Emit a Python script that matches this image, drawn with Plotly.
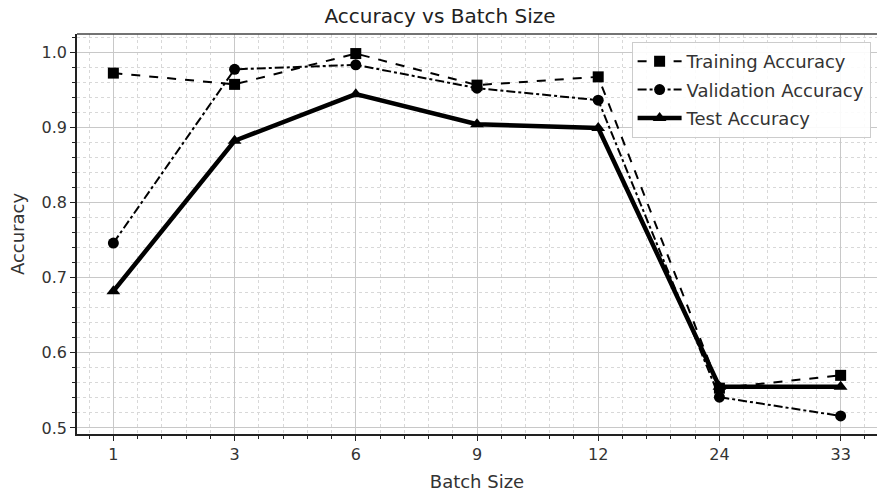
import plotly.graph_objects as go

batch_sizes = ["1", "3", "6", "9", "12", "24", "33"]
training_acc = [0.972, 0.957, 0.998, 0.956, 0.967, 0.553, 0.570]
validation_acc = [0.746, 0.977, 0.983, 0.952, 0.936, 0.541, 0.516]
test_acc = [0.682, 0.882, 0.944, 0.904, 0.899, 0.555, 0.555]

x = list(range(len(batch_sizes)))

fig = go.Figure()
fig.add_trace(go.Scatter(x=x, y=training_acc, name="Training Accuracy", mode="lines+markers",
                         legendgroup="a",
                         line=dict(color="black", width=2, dash="dash"),
                         marker=dict(symbol="square", size=11, color="black")))
fig.add_trace(go.Scatter(x=x, y=validation_acc, name="Validation Accuracy", mode="lines+markers",
                         legendgroup="b",
                         line=dict(color="black", width=2, dash="dashdot"),
                         marker=dict(symbol="circle", size=11, color="black")))
fig.add_trace(go.Scatter(x=x, y=test_acc, name="Test Accuracy", mode="lines+markers",
                         legendgroup="c",
                         line=dict(color="black", width=4.5),
                         marker=dict(symbol="triangle-up", size=12, color="black")))

font = "DejaVu Sans"
fig.update_layout(
    width=880, height=494,
    margin=dict(l=77, r=3, t=34, b=60),
    paper_bgcolor="white", plot_bgcolor="white",
    font=dict(family=font, size=16, color="#333"),
    title=dict(text="Accuracy vs Batch Size", x=0.5, xanchor="center", y=0.968, yanchor="middle",
               font=dict(size=20, color="#222")),
    showlegend=True,
    legend=dict(x=0.992, y=0.98, xanchor="right", yanchor="top",
                bgcolor="rgba(255,255,255,0.9)", bordercolor="#ccc", borderwidth=1,
                font=dict(size=18, color="#333"), tracegroupgap=2, itemwidth=44),
)
fig.update_xaxes(
    range=[-0.3, 6.3], tickmode="array", tickvals=x, ticktext=batch_sizes,
    showline=True, linecolor="#222", linewidth=1.5, mirror=False,
    ticks="outside", ticklen=5, tickcolor="#222",
    showgrid=True, gridcolor="#c8c8c8", gridwidth=1.3,
    zeroline=False,
    title=dict(text="Batch Size", font=dict(size=18, color="#333"), standoff=12),
    minor=dict(tickmode="linear", tick0=0, dtick=0.2, ticks="outside", ticklen=3, tickcolor="#222",
               showgrid=True, gridcolor="#d8d8d8", griddash="3px,3px", gridwidth=1),
)
fig.update_yaxes(
    range=[0.492, 1.024], tickmode="linear", tick0=0.5, dtick=0.1, tickformat=".1f",
    showline=True, linecolor="#222", linewidth=1.5, mirror=False,
    ticks="outside", ticklen=5, tickcolor="#222",
    showgrid=True, gridcolor="#c8c8c8", gridwidth=1.3,
    zeroline=False,
    title=dict(text="Accuracy", font=dict(size=18, color="#333"), standoff=12),
    minor=dict(tickmode="linear", tick0=0.5, dtick=0.02, ticks="outside", ticklen=3, tickcolor="#222",
               showgrid=True, gridcolor="#d8d8d8", griddash="3px,3px", gridwidth=1),
)
# top frame line
fig.add_shape(type="line", xref="paper", yref="paper", x0=0, x1=1, y0=1, y1=1,
              line=dict(color="#444", width=1.5))

fig.write_html("out.html")
